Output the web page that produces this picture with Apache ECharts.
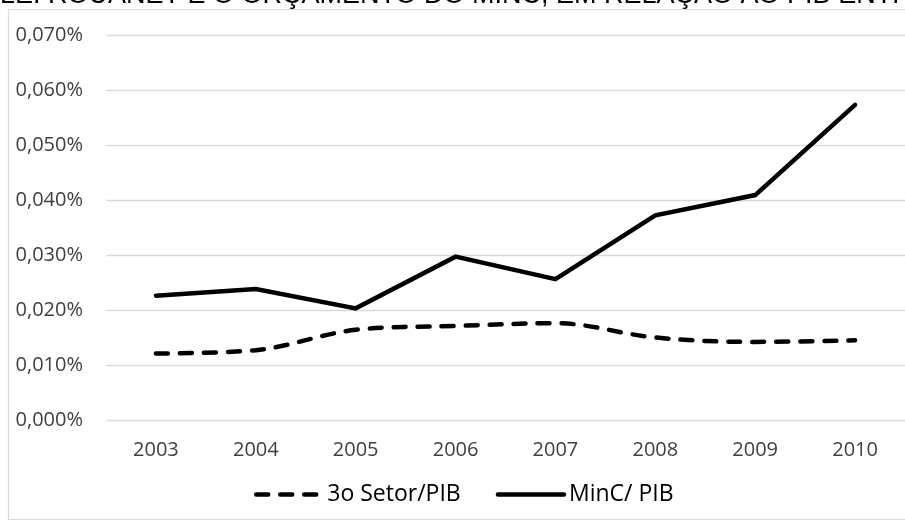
<!DOCTYPE html>
<html>
<head>
<meta charset="utf-8">
<script src="https://cdn.jsdelivr.net/npm/echarts@6/dist/echarts.min.js"></script>
<style>html,body{margin:0;padding:0;background:#fff;}#c{width:905px;height:523px;}</style>
</head>
<body>
<div id="c"></div>
<script>
var titleText = 'LEI ROUANET E O ORÇAMENTO DO MINC, EM RELAÇÃO AO PIB ENTRE 2003 E 2010';
var years = ['2003', '2004', '2005', '2006', '2007', '2008', '2009', '2010'];
var seriesNames = ['3o Setor/PIB', 'MinC/ PIB'];
var terceiroSetor = [0.0121, 0.0127, 0.0164, 0.0171, 0.0176, 0.0150, 0.0142, 0.0145];
var minc = [0.0226, 0.0238, 0.0203, 0.0297, 0.0256, 0.0372, 0.0409, 0.0573];
var yMin = 0, yMax = 0.07, yStep = 0.01;

var dashStyle = {color: '#000000', width: 4.5, type: [12, 12], cap: 'round'};
var solidStyle = {color: '#000000', width: 4.5, type: 'solid', cap: 'round', join: 'miter'};

var chart = echarts.init(document.getElementById('c'), null, {renderer: 'canvas'});
chart.setOption({
  animation: false,
  backgroundColor: '#ffffff',
  graphic: [
    {type: 'rect', silent: true, shape: {x: 8.5, y: 9.5, width: 1000, height: 510},
     style: {fill: 'none', stroke: '#d9d9d9', lineWidth: 1.2}},
    {type: 'text', silent: true, x: 0, y: -4,
     style: {text: titleText, fontFamily: 'Liberation Sans', fontSize: 27, fill: '#000000',
             align: 'left', verticalAlign: 'middle'}}
  ],
  grid: {left: 106, right: -11, top: 35, bottom: 103, containLabel: false},
  legend: {
    left: 249, top: 478,
    itemWidth: 66, itemHeight: 14, itemGap: 35,
    itemStyle: {opacity: 0},
    data: [
      {name: seriesNames[0], lineStyle: dashStyle, itemStyle: {opacity: 0}},
      {name: seriesNames[1], lineStyle: solidStyle, itemStyle: {opacity: 0}}
    ],
    textStyle: {fontFamily: 'Open Sans', fontSize: 23, color: '#000000'}
  },
  xAxis: {
    type: 'category', data: years, boundaryGap: true,
    axisLine: {show: false}, axisTick: {show: false},
    axisLabel: {fontFamily: 'Open Sans', fontSize: 20, color: '#404040', margin: 20}
  },
  yAxis: {
    type: 'value', min: yMin, max: yMax, interval: yStep,
    axisLine: {show: false}, axisTick: {show: false},
    splitLine: {lineStyle: {color: '#d9d9d9', width: 1.3}},
    axisLabel: {fontFamily: 'Open Sans', fontSize: 20, color: '#404040', margin: 23,
      formatter: function (v) { return v.toFixed(3).replace('.', ',') + '%'; }}
  },
  series: [
    {name: seriesNames[0], type: 'line', data: terceiroSetor, smooth: 0.35, symbol: 'none',
     lineStyle: dashStyle, itemStyle: {color: '#000000'}},
    {name: seriesNames[1], type: 'line', data: minc, smooth: false, symbol: 'none',
     lineStyle: solidStyle, itemStyle: {color: '#000000'}}
  ]
});
</script>
</body>
</html>
